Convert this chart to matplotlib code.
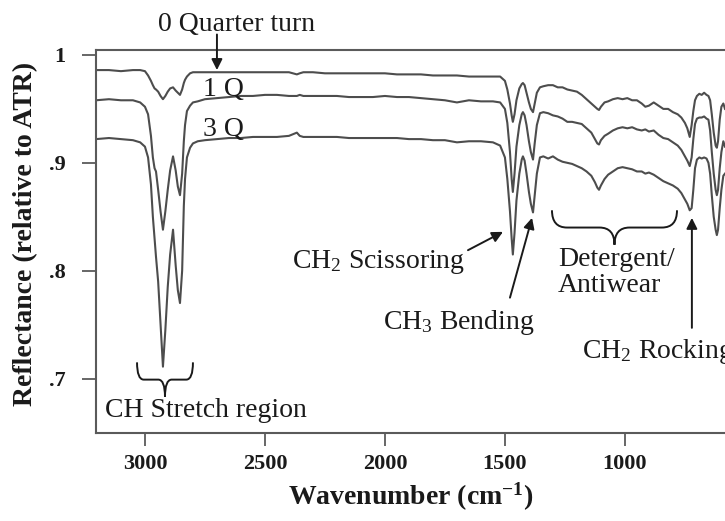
import matplotlib
matplotlib.use('Agg')
import matplotlib.pyplot as plt
from matplotlib.path import Path
from matplotlib.patches import PathPatch

# Fonts: Times-like serif everywhere, mathtext in the same family
plt.rcParams['font.family'] = 'Liberation Serif'
plt.rcParams['mathtext.fontset'] = 'custom'
plt.rcParams['mathtext.rm'] = 'Liberation Serif'
plt.rcParams['mathtext.it'] = 'Liberation Serif:italic'
plt.rcParams['mathtext.bf'] = 'Liberation Serif:bold'

line_color = '#4d4d4d'
spine_color = '#5a5a5a'
text_color = '#1a1a1a'

# Data (wavenumber in cm-1, reflectance relative to ATR)
wavenumber = [3204, 3150, 3100, 3050, 3020, 3000, 2987, 2975, 2967, 2960,
              2954, 2945, 2935, 2925, 2915, 2905, 2895, 2883, 2872, 2863,
              2854, 2845, 2838, 2833, 2825, 2812, 2800, 2780, 2750, 2700,
              2650, 2600, 2550, 2500, 2450, 2400, 2367, 2355, 2340, 2300,
              2250, 2200, 2150, 2100, 2050, 2000, 1950, 1900, 1850, 1800,
              1750, 1700, 1650, 1600, 1550, 1520, 1500, 1490, 1479, 1472,
              1467, 1460, 1452, 1440, 1430, 1425, 1418, 1410, 1400, 1392,
              1383, 1376, 1367, 1354, 1340, 1320, 1300, 1280, 1260, 1240,
              1220, 1200, 1180, 1160, 1140, 1125, 1115, 1108, 1100, 1085,
              1070, 1050, 1030, 1010, 990, 970, 950, 930, 915, 900,
              880, 860, 840, 820, 800, 780, 765, 750, 740, 730,
              722, 715, 708, 700, 690, 680, 670, 660, 652, 645,
              638, 630, 622, 617, 612, 605, 598, 590, 583]

quarter_0 = [.986, .986, .985, .986, .986, .985, .981, .976, .972, .969,
             .968, .966, .962, .959, .962, .966, .969, .970, .967, .965,
             .963, .968, .974, .977, .980, .983, .984, .984, .984, .984,
             .984, .984, .984, .984, .984, .984, .982, .983, .984, .984,
             .983, .983, .983, .983, .983, .983, .982, .982, .982, .981,
             .981, .981, .980, .980, .980, .980, .976, .968, .955, .944,
             .938, .945, .958, .969, .973, .974, .972, .965, .956, .950,
             .947, .955, .965, .970, .971, .972, .972, .970, .970, .968,
             .967, .966, .963, .959, .955, .952, .950, .949, .952, .956,
             .957, .959, .960, .959, .960, .958, .958, .955, .952, .953,
             .956, .953, .950, .950, .947, .945, .942, .937, .932, .924,
             .935, .948, .958, .962, .964, .963, .965, .963, .962, .958,
             .945, .928, .916, .914, .920, .940, .952, .955, .950]

quarter_1 = [.958, .959, .958, .958, .956, .952, .945, .925, .905, .895,
             .892, .875, .855, .838, .855, .875, .893, .906, .893, .878,
             .870, .890, .920, .935, .948, .953, .956, .957, .959, .960,
             .961, .962, .962, .963, .963, .962, .962, .963, .962, .962,
             .962, .962, .961, .961, .961, .962, .961, .961, .960, .959,
             .958, .956, .958, .957, .957, .956, .950, .937, .910, .885,
             .873, .890, .915, .935, .945, .947, .944, .935, .920, .910,
             .903, .918, .935, .946, .947, .946, .944, .943, .941, .938,
             .938, .937, .936, .932, .928, .922, .918, .917, .921, .925,
             .927, .930, .932, .933, .932, .933, .931, .930, .931, .929,
             .930, .926, .923, .922, .919, .916, .912, .906, .902, .897,
             .905, .922, .936, .941, .942, .942, .943, .941, .940, .930,
             .910, .890, .875, .870, .875, .895, .910, .920, .915]

quarter_3 = [.922, .923, .922, .921, .919, .915, .905, .880, .850, .830,
             .813, .790, .750, .711, .745, .785, .815, .838, .805, .782,
             .770, .800, .860, .885, .905, .914, .918, .920, .921, .922,
             .923, .923, .924, .924, .924, .925, .928, .925, .924, .924,
             .924, .924, .923, .923, .923, .923, .923, .922, .922, .921,
             .921, .919, .920, .920, .919, .916, .905, .885, .855, .830,
             .815, .835, .865, .890, .903, .906, .902, .890, .873, .862,
             .854, .870, .890, .905, .906, .904, .906, .903, .901, .900,
             .899, .897, .895, .892, .888, .882, .877, .875, .879, .885,
             .889, .892, .895, .896, .895, .894, .892, .892, .890, .891,
             .889, .886, .883, .881, .879, .876, .872, .866, .862, .856,
             .858, .875, .895, .903, .905, .904, .905, .904, .900, .890,
             .870, .850, .838, .833, .838, .858, .875, .888, .890]

x_ticks = [3000, 2500, 2000, 1500, 1000]
y_ticks = [0.7, 0.8, 0.9, 1.0]
y_tick_labels = ['.7', '.8', '.9', '1']


def draw_brace(ax, x_left, x_right, y_top, y_bot):
    # flat curly brace opening upwards, tip pointing down
    xm = (x_left + x_right) / 2
    ym = (y_top + y_bot) / 2
    d = (x_right - x_left) * 0.12
    verts = [(x_left, y_top), (x_left, ym), (x_left + d, ym),
             (xm - d, ym), (xm, ym), (xm, y_bot),
             (xm, ym), (xm + d, ym),
             (x_right - d, ym), (x_right, ym), (x_right, y_top)]
    codes = [Path.MOVETO, Path.CURVE3, Path.CURVE3,
             Path.LINETO, Path.CURVE3, Path.CURVE3,
             Path.CURVE3, Path.CURVE3,
             Path.LINETO, Path.CURVE3, Path.CURVE3]
    ax.add_patch(PathPatch(Path(verts, codes), facecolor='none',
                           edgecolor=text_color, lw=1.4, clip_on=False))


fig = plt.figure(figsize=(7.25, 5.21), dpi=100)
fig.set_facecolor('white')
ax = fig.add_axes([0.1324, 0.1689, 0.8676, 0.7351])

ax.plot(wavenumber, quarter_0, color=line_color, lw=1.5)
ax.plot(wavenumber, quarter_1, color=line_color, lw=1.5)
ax.plot(wavenumber, quarter_3, color=line_color, lw=1.5)

ax.set_xlim(3204, 583)
ax.set_ylim(0.6495, 1.0046)

ax.spines['right'].set_visible(False)
for side in ['left', 'top', 'bottom']:
    ax.spines[side].set_color(spine_color)
    ax.spines[side].set_linewidth(1.5)

ax.set_xticks(x_ticks)
ax.set_xticklabels([str(t) for t in x_ticks])
ax.set_yticks(y_ticks)
ax.set_yticklabels(y_tick_labels)
ax.tick_params(axis='x', direction='out', length=9, width=1.3, pad=6,
               color=spine_color, labelsize=16, labelcolor=text_color)
ax.tick_params(axis='y', direction='out', length=10, width=1.3, pad=12,
               color=spine_color, labelsize=16, labelcolor=text_color)
for lab in ax.get_xticklabels() + ax.get_yticklabels():
    lab.set_fontweight('bold')

ax.set_xlabel(r'Wavenumber (cm$^{\mathbf{-1}}$)', fontsize=20,
              fontweight='bold', color=text_color)
ax.xaxis.set_label_coords(0.5, -0.125)
ax.set_ylabel('Reflectance (relative to ATR)', fontsize=20,
              fontweight='bold', color=text_color)
ax.yaxis.set_label_coords(-0.092, 0.52)

# Curve labels
ax.annotate('0 Quarter turn', xy=(2700, 0.986), xytext=(2617, 1.028),
            ha='center', va='center', fontsize=20, color=text_color,
            annotation_clip=False)
ax.annotate('', xy=(2700, 0.986), xytext=(2700, 1.019),
            arrowprops=dict(arrowstyle='-|>', color=text_color, lw=1.4,
                            mutation_scale=16, shrinkA=0, shrinkB=0),
            annotation_clip=False)
ax.text(2758, 0.968, '1 Q', ha='left', va='center', fontsize=20,
        color=text_color)
ax.text(2758, 0.931, '3 Q', ha='left', va='center', fontsize=20,
        color=text_color)

# CH stretch
draw_brace(ax, 3033, 2800, 0.715, 0.683)
ax.text(3167, 0.670, 'CH Stretch region', ha='left', va='center',
        fontsize=20, color=text_color)

# CH2 scissoring
ax.text(1667, 0.808, r'CH$_{\mathrm{2}}$ Scissoring', ha='right',
        va='center', fontsize=20, color=text_color)
ax.annotate('', xy=(1508, 0.836), xytext=(1654, 0.819),
            arrowprops=dict(arrowstyle='-|>', color=text_color, lw=1.4,
                            mutation_scale=16, shrinkA=0, shrinkB=0))

# CH3 bending
ax.text(2008, 0.752, r'CH$_{\mathrm{3}}$ Bending', ha='left', va='center',
        fontsize=20, color=text_color)
ax.annotate('', xy=(1387, 0.849), xytext=(1479, 0.775),
            arrowprops=dict(arrowstyle='-|>', color=text_color, lw=1.4,
                            mutation_scale=16, shrinkA=0, shrinkB=0))

# Detergent / antiwear
draw_brace(ax, 1304, 783, 0.856, 0.824)
ax.text(1279, 0.798, 'Detergent/\nAntiwear', ha='left', va='center',
        fontsize=20, color=text_color, linespacing=1.05)

# CH2 rocking
ax.text(1179, 0.725, r'CH$_{\mathrm{2}}$ Rocking', ha='left', va='center',
        fontsize=20, color=text_color, clip_on=False)
ax.annotate('', xy=(721, 0.849), xytext=(721, 0.747),
            arrowprops=dict(arrowstyle='-|>', color=text_color, lw=1.4,
                            mutation_scale=16, shrinkA=0, shrinkB=0))

fig.savefig('out.png', dpi=100)
